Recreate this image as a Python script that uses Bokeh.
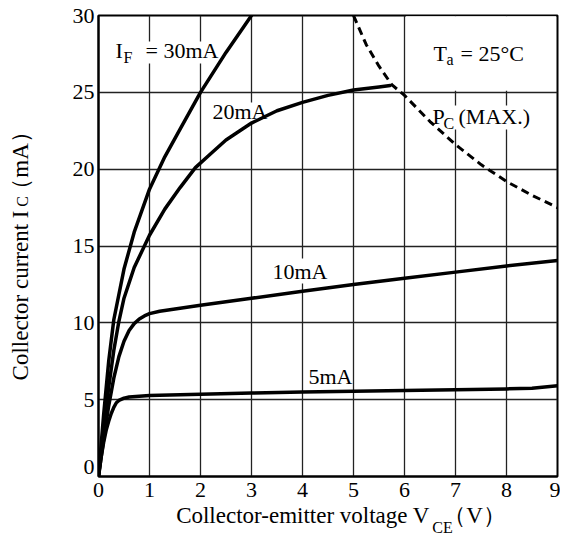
from bokeh.plotting import figure
from bokeh.models import Range1d, LinearAxis, FixedTicker
from bokeh.embed import file_html
from bokeh.resources import INLINE
from bokeh.core.properties import value

# ---- data ----
vce_5 = [0, 0.05, 0.1, 0.15, 0.2, 0.25, 0.3, 0.35, 0.4, 0.5, 0.6, 0.8, 1.0, 2, 3, 4, 5, 6, 7, 8, 8.5, 9]
ic_5 = [0, 1.2, 2.2, 3.0, 3.6, 4.1, 4.5, 4.8, 4.95, 5.1, 5.17, 5.22, 5.27, 5.35, 5.43, 5.5, 5.55, 5.6, 5.65, 5.7, 5.75, 5.9]

vce_10 = [0, 0.05, 0.1, 0.2, 0.3, 0.4, 0.5, 0.6, 0.7, 0.8, 0.9, 1.0, 1.2, 1.5, 2, 3, 4, 5, 6, 7, 8, 9]
ic_10 = [0, 1.2, 2.4, 4.6, 6.4, 7.8, 8.8, 9.5, 9.95, 10.25, 10.45, 10.6, 10.75, 10.9, 11.15, 11.6, 12.05, 12.5, 12.9, 13.3, 13.7, 14.05]

vce_20 = [0, 0.05, 0.1, 0.2, 0.3, 0.4, 0.5, 0.7, 1.0, 1.3, 1.6, 1.9, 2.2, 2.5, 3.0, 3.5, 4.0, 4.5, 5.0, 5.5, 5.72]
ic_20 = [0, 1.5, 3.0, 5.8, 8.2, 10.1, 11.6, 13.6, 15.7, 17.4, 18.8, 20.1, 21.0, 21.9, 23.0, 23.8, 24.35, 24.8, 25.15, 25.35, 25.45]

vce_30 = [0, 0.05, 0.1, 0.2, 0.3, 0.5, 0.7, 1.0, 1.3, 1.6, 2.0, 2.5, 3.0]
ic_30 = [0, 2.0, 4.0, 7.5, 10.2, 13.5, 15.9, 18.7, 20.8, 22.6, 25.0, 27.6, 30.0]

vce_pc = [5.0, 5.25, 5.5, 5.75, 6.0, 6.5, 7.0, 7.5, 8.0, 8.5, 9.0]
ic_pc = [30.0, 28.1, 26.7, 25.5, 24.8, 23.1, 21.6, 20.3, 19.2, 18.3, 17.5]

x_ticks = [0, 1, 2, 3, 4, 5, 6, 7, 8, 9]
y_ticks = [0, 5, 10, 15, 20, 25, 30]
y_tick_labels = ["0", "5", "10", "15", "20", "25", "30"]

x_title = ["Collector-emitter voltage V", "（V）"]
x_title_sub = "CE"
y_title = ["Collector current I", "（mA）"]
y_title_sub = "C"

FONT = "Liberation Serif"
FS = "22px"
TS = "23px"
SUB = "16px"

# frame on the page: x 98..557, y 15..476
W, H = 560, 541
p = figure(width=W, height=H, x_range=Range1d(0, 9), y_range=Range1d(0, 30),
           output_backend="svg", toolbar_location=None,
           min_border_left=98, min_border_right=3, min_border_top=15, min_border_bottom=65)
p.background_fill_color = "white"
p.border_fill_color = "white"
p.outline_line_color = "black"
p.outline_line_width = 2
p.outline_line_alpha = 1


def plain_axis(ax, size=FS):
    ax.major_tick_in = 0
    ax.major_tick_out = 0
    ax.minor_tick_in = 0
    ax.minor_tick_out = 0
    ax.major_label_text_font = FONT
    ax.major_label_text_font_size = size
    ax.major_label_text_color = "black"


# main axes
p.xaxis.ticker = FixedTicker(ticks=x_ticks, minor_ticks=[])
# the y "0" label sits a little above its gridline in the reference
y_label_pos = [0.65] + y_ticks[1:]
p.yaxis.ticker = FixedTicker(ticks=y_label_pos, minor_ticks=[])
p.yaxis.major_label_overrides = dict(zip(y_label_pos, y_tick_labels))
for ax in (p.xaxis[0], p.yaxis[0]):
    plain_axis(ax)
    ax.axis_line_color = "black"
    ax.axis_line_width = 2
p.xaxis.major_label_standoff = 6
p.yaxis.major_label_standoff = 4

for g in (p.xgrid[0], p.ygrid[0]):
    g.grid_line_color = "#222222"
    g.grid_line_width = 1.3
    g.grid_line_alpha = 1
p.xgrid.ticker = FixedTicker(ticks=x_ticks, minor_ticks=[])
p.ygrid.ticker = FixedTicker(ticks=y_ticks, minor_ticks=[])


# page-pixel helpers
def dx(px):
    return (px - 98) / 51.0


def dy(py):
    return (476 - py) / (461 / 30.0)


def title_axis(side, centers, labels, size, standoff, orient=None):
    ticks = [round(c, 3) for c in centers]
    ax = LinearAxis(ticker=FixedTicker(ticks=ticks, minor_ticks=[]),
                    major_label_overrides=dict(zip(ticks, labels)))
    plain_axis(ax, size)
    ax.axis_line_color = None
    ax.major_label_standoff = standoff
    if orient is not None:
        ax.major_label_orientation = orient
    p.add_layout(ax, side)


# x title (main text, then lowered subscript)
title_axis("below", [dx(302.5), dx(474)], x_title, TS, 3)
title_axis("below", [dx(442)], [x_title_sub], SUB, -12)
# y title (subscript first, then main text further out)
title_axis("left", [dy(201)], [y_title_sub], SUB, 38, "parallel")
title_axis("left", [dy(295), dy(160)], y_title, TS, -22, "parallel")

# white boxes behind in-plot labels
boxes = [(112, 220, 41, 63), (209, 268, 102, 121), (429, 538, 105, 129),
         (269, 328, 258, 283), (305, 350, 365, 388)]
p.quad(left=[dx(b[0]) for b in boxes], right=[dx(b[1]) for b in boxes],
       top=[dy(b[2]) for b in boxes], bottom=[dy(b[3]) for b in boxes],
       fill_color="white", line_color=None)
p.quad(left=[6.03], right=[8.97], top=[29.95], bottom=[25.1], fill_color="white", line_color=None)


def txt(px, py, s, size=FS):
    p.text(x=[dx(px)], y=[dy(py)], text=[s], text_font=value(FONT), text_font_size=size,
           text_align="left", text_baseline="middle", text_color="black")


txt(115, 50, "I")
txt(123, 57, "F", SUB)
txt(145, 50, "= 30mA")
txt(212, 111, "20mA")
txt(433, 53, "T")
txt(446, 59, "a", SUB)
txt(460, 53, "= 25°C")
txt(432, 116, "P")
txt(443, 123, "C", SUB)
txt(458, 116, "(MAX.)")
txt(272, 271, "10mA")
txt(308, 376, "5mA")

# curves
for v, i in ((vce_5, ic_5), (vce_10, ic_10), (vce_20, ic_20), (vce_30, ic_30)):
    p.line(v, i, line_width=3.5, line_color="black", line_join="round", line_cap="round")
p.line(vce_pc, ic_pc, line_width=3, line_color="black", line_dash="8 5")

open("out.html", "w").write(file_html(p, INLINE))
